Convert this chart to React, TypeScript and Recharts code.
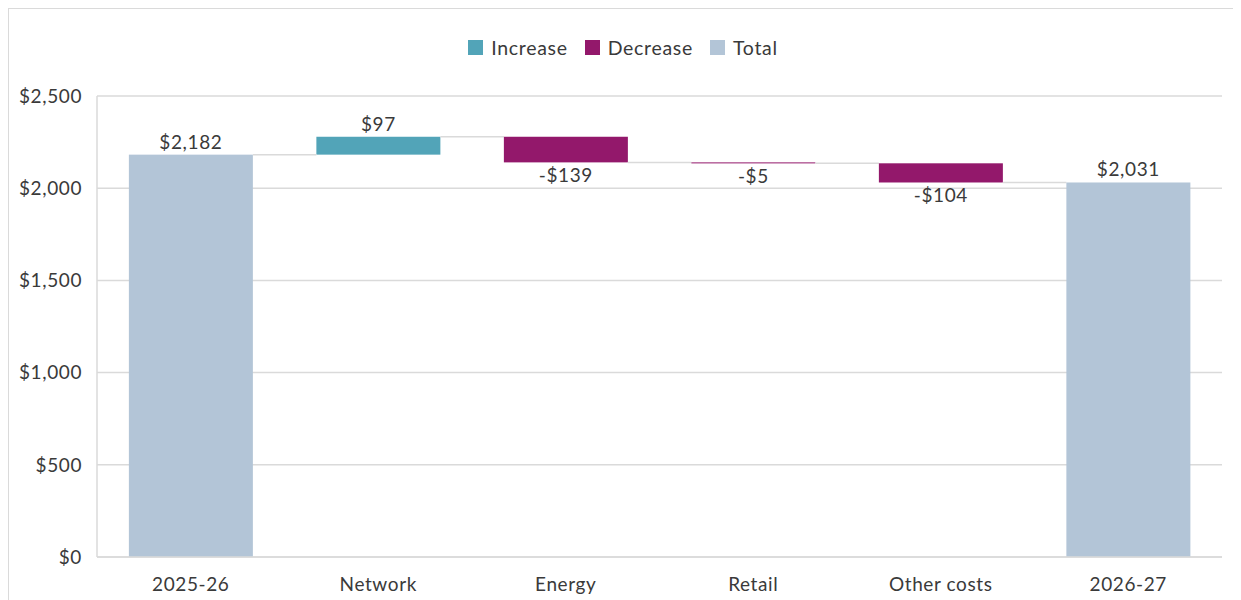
import React from "react";
import { BarChart, Bar, XAxis, YAxis, CartesianGrid, Legend } from "recharts";

const categories = ["2025-26", "Network", "Energy", "Retail", "Other costs", "2026-27"];
const changes = [2182, 97, -139, -5, -104, 2031];
const kinds = ["total", "increase", "decrease", "decrease", "decrease", "total"];
const yTicks = [0, 500, 1000, 1500, 2000, 2500];
const legendNames = ["Increase", "Decrease", "Total"];
const legendKinds = ["increase", "decrease", "total"];

const COLORS: Record<string, string> = {
  increase: "#52a4b8",
  decrease: "#93186b",
  total: "#b3c5d7",
};
const GRID = "#dadada";
const TEXT = "#3a3a3a";
const FONT = "Lato, 'Open Sans', sans-serif";
const FS = 19;
const LS = 0.6;

const CHART_W = 1228;
const CHART_H = 600;
const MARGIN = { top: 87, right: 15, bottom: 22, left: 0 };
const Y_AXIS_W = 88;
const BAND = (CHART_W - MARGIN.left - MARGIN.right - Y_AXIS_W) / categories.length;

const fmtMoney = (v: number) =>
  (v < 0 ? "-$" : "$") + Math.abs(v).toLocaleString("en-US");

type Row = {
  name: string;
  kind: string;
  label: string;
  last: boolean;
  base: number;
  increase: number | null;
  decrease: number | null;
  total: number | null;
};

let running = 0;
const data: Row[] = categories.map((name, i) => {
  const kind = kinds[i];
  const v = changes[i];
  const row: Row = {
    name,
    kind,
    label: fmtMoney(v),
    last: i === categories.length - 1,
    base: 0,
    increase: null,
    decrease: null,
    total: null,
  };
  if (kind === "total") {
    row.total = v;
    running = v;
  } else if (kind === "increase") {
    row.base = running;
    row.increase = v;
    running += v;
  } else {
    running += v;
    row.base = running;
    row.decrease = -v;
  }
  return row;
});

const makeShape = (kind: string) => (props: any) => {
  const { x, y, width, height, payload } = props;
  if (!payload || payload.kind !== kind || payload[kind] == null) return <g />;
  const h = Math.max(height, 1);
  const levelY = kind === "decrease" ? y + height : y;
  const labelY = kind === "decrease" ? y + h + 20 : y - 6;
  return (
    <g>
      <rect x={x} y={y} width={width} height={h} fill={COLORS[kind]} />
      {!payload.last && (
        <line
          x1={x + width}
          x2={x + BAND}
          y1={levelY}
          y2={levelY}
          stroke={GRID}
          strokeWidth={1.5}
        />
      )}
      <text
        x={x + width / 2}
        y={labelY}
        textAnchor="middle"
        fontSize={FS}
        fill={TEXT}
        fontFamily={FONT}
        letterSpacing={LS}
      >
        {payload.label}
      </text>
    </g>
  );
};

const LegendContent = () => (
  <div
    style={{
      display: "flex",
      justifyContent: "center",
      alignItems: "center",
      fontFamily: FONT,
      fontSize: 19.5,
      letterSpacing: 0.7,
      color: TEXT,
    }}
  >
    {legendNames.map((n, i) => (
      <div
        key={n}
        style={{ display: "flex", alignItems: "center", marginLeft: i === 0 ? 0 : 17 }}
      >
        <span
          style={{
            display: "inline-block",
            width: 15,
            height: 15,
            background: COLORS[legendKinds[i]],
            marginRight: 8,
          }}
        />
        <span>{n}</span>
      </div>
    ))}
  </div>
);

const tickStyle = { fontSize: FS, fill: TEXT, fontFamily: FONT, letterSpacing: LS };

export default function App() {
  return (
    <div
      style={{
        width: CHART_W,
        height: CHART_H,
        border: `1px solid ${GRID}`,
        background: "#fff",
        fontFamily: FONT,
      }}
    >
      <BarChart
        width={CHART_W}
        height={CHART_H}
        data={data}
        margin={MARGIN}
        barCategoryGap="17%"
      >
        <CartesianGrid vertical={false} stroke={GRID} strokeWidth={1.5} />
        <XAxis
          dataKey="name"
          axisLine={{ stroke: GRID, strokeWidth: 1.5 }}
          tickLine={false}
          tickSize={0}
          tickMargin={21}
          tick={tickStyle}
          interval={0}
        />
        <YAxis
          width={Y_AXIS_W}
          domain={[0, 2500]}
          ticks={yTicks}
          axisLine={{ stroke: GRID, strokeWidth: 1.5 }}
          tickLine={false}
          tickSize={0}
          tickMargin={15}
          tickFormatter={(v: number) => fmtMoney(v)}
          tick={tickStyle}
        />
        <Legend
          verticalAlign="middle"
          layout="horizontal"
          content={LegendContent}
          wrapperStyle={{ top: 27, left: 0, width: CHART_W }}
        />
        <Bar dataKey="base" stackId="w" fill="transparent" legendType="none" isAnimationActive={false} />
        <Bar dataKey="increase" stackId="w" fill={COLORS.increase} shape={makeShape("increase")} isAnimationActive={false} />
        <Bar dataKey="decrease" stackId="w" fill={COLORS.decrease} shape={makeShape("decrease")} isAnimationActive={false} />
        <Bar dataKey="total" stackId="w" fill={COLORS.total} shape={makeShape("total")} isAnimationActive={false} />
      </BarChart>
    </div>
  );
}
